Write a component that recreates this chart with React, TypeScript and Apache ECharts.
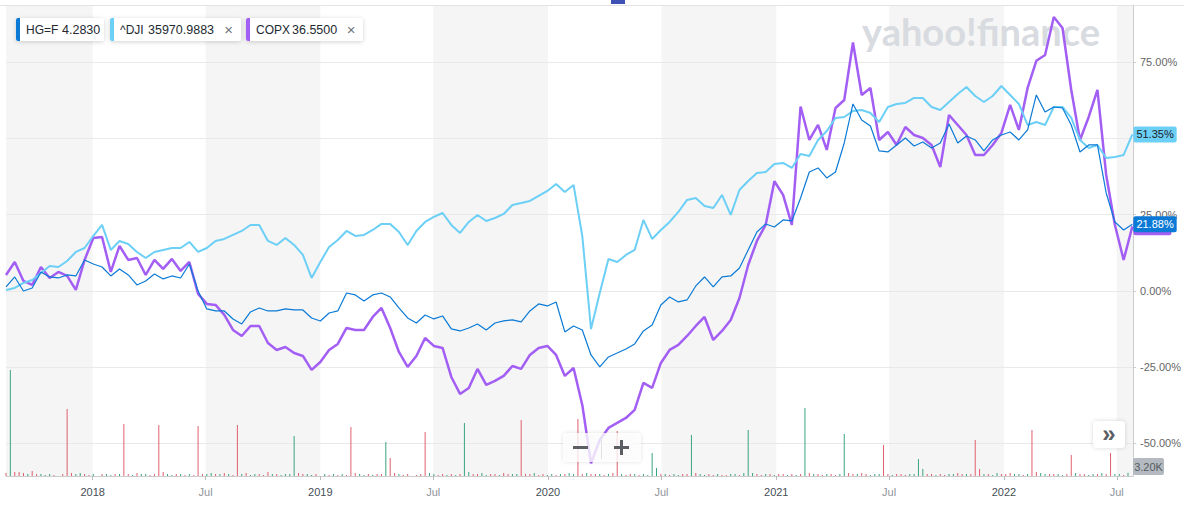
import React, { useEffect, useRef } from 'react';
import * as echarts from 'echarts';

// ---- data (percent change since start, bi-weekly samples) ----
const TICKERS = ['HG=F', '^DJI', 'COPX'];
const LAST_PRICES = ['4.2830', '35970.9883', '36.5500'];
const COLORS = ['#0b7ad6', '#6ccff6', '#a35ef4'];

const HG = [
  1.31, 4.59, 0.0, 0.98, 6.23, 4.59, 4.26, 5.25, 4.92, 10.17,
  8.86, 7.87, 4.92, 7.22, 5.25, 1.97, 3.28, 5.58, 3.94, 4.92,
  4.26, 8.86, 0.0, -5.9, -6.56, -6.56, -9.18, -10.82, -6.89, -5.58,
  -6.56, -6.56, -5.9, -6.23, -6.23, -8.86, -9.84, -7.22, -6.56, -0.66,
  -1.31, -3.28, -1.31, -0.66, -1.97, -5.58, -8.86, -10.5, -7.87, -9.18,
  -8.2, -12.46, -13.12, -12.14, -10.82, -12.79, -10.5, -9.84, -9.51, -10.17,
  -6.56, -4.26, -4.92, -3.61, -13.45, -11.48, -12.79, -20.99, -24.93, -21.65,
  -20.34, -19.02, -17.38, -13.12, -11.15, -4.59, -1.97, -3.61, -2.95, 1.64,
  4.59, 1.31, 4.59, 4.92, 7.54, 13.45, 19.35, 21.98, 20.99, 23.29,
  22.96, 30.5, 39.03, 40.34, 37.06, 39.03, 48.54, 61.34, 56.09, 54.12,
  45.92, 45.59, 47.89, 50.18, 47.56, 48.87, 46.9, 48.54, 54.78, 48.54,
  50.84, 49.53, 45.92, 49.53, 51.17, 52.15, 49.53, 52.81, 64.29, 58.71,
  60.35, 60.02, 54.45, 45.59, 47.89, 47.89, 32.14, 22.63, 20.01, 21.88,
];
const DJI = [
  0.33, 0.98, 2.62, 3.61, 5.9, 8.2, 7.87, 9.84, 12.79, 14.1,
  18.04, 21.65, 13.45, 16.4, 15.42, 12.79, 10.82, 12.79, 13.45, 14.1,
  14.1, 16.07, 12.79, 14.1, 16.4, 17.06, 18.37, 19.68, 21.65, 21.65,
  16.4, 15.09, 17.38, 15.09, 11.81, 4.26, 9.51, 14.43, 16.73, 19.68,
  18.04, 18.37, 20.01, 21.98, 21.98, 19.35, 15.09, 19.68, 22.63, 24.27,
  25.58, 21.65, 19.02, 22.63, 24.93, 22.96, 23.94, 25.26, 28.21, 28.86,
  29.52, 31.16, 32.8, 35.1, 32.47, 34.77, 18.04, -12.5, -0.66, 10.5,
  9.51, 11.81, 13.45, 23.29, 17.06, 20.01, 22.63, 25.91, 29.85, 30.5,
  27.88, 27.22, 31.49, 24.93, 33.13, 36.08, 38.7, 39.03, 41.66, 41.98,
  40.34, 44.94, 44.28, 49.53, 52.48, 56.74, 57.07, 59.04, 59.37, 58.38,
  55.43, 60.35, 61.34, 61.66, 63.3, 63.3, 60.35, 59.37, 61.99, 64.62,
  66.91, 63.96, 61.99, 63.96, 67.24, 64.29, 61.34, 54.45, 55.43, 54.45,
  60.35, 60.35, 56.74, 49.53, 46.9, 47.89, 43.62, 43.95, 44.61, 51.35,
];
const COPX = [
  5.25, 9.51, 3.28, 1.97, 7.87, 4.26, 6.23, 4.92, 0.33, 10.17,
  17.38, 17.71, 6.23, 14.76, 10.17, 10.82, 5.25, 10.17, 7.22, 10.5,
  6.56, 9.51, -0.98, -4.26, -4.59, -7.87, -12.79, -14.76, -11.48, -11.48,
  -17.06, -19.35, -18.37, -20.34, -21.32, -25.91, -23.29, -19.35, -17.38, -12.14,
  -12.79, -12.79, -8.53, -5.58, -12.14, -20.01, -24.93, -21.32, -15.42, -18.04,
  -18.7, -28.21, -33.78, -31.82, -25.58, -30.83, -29.52, -27.88, -24.6, -25.58,
  -20.99, -18.7, -18.04, -20.99, -27.88, -25.26, -37.39, -56.5, -48.87, -44.94,
  -43.3, -41.66, -39.03, -30.18, -31.82, -23.62, -19.35, -17.71, -14.76, -11.48,
  -8.53, -16.07, -13.12, -9.51, -2.3, 8.53, 16.4, 21.65, 36.0, 31.49,
  21.65, 60.5, 49.53, 54.45, 46.25, 60.02, 62.65, 81.5, 64.29, 66.58,
  49.53, 52.15, 47.89, 53.79, 51.17, 50.18, 47.89, 40.67, 57.73, 54.45,
  51.17, 44.61, 44.61, 47.89, 51.82, 61.01, 52.81, 66.58, 75.5, 77.41,
  89.87, 86.26, 65.93, 49.53, 57.07, 65.93, 38.05, 21.65, 10.17, 21.2,
];

// weekly volume (thousands) and direction (u = up / green, d = down / red)
const VOLUME = [
  3, 106, 4, 4, 3, 2, 5, 2, 2, 1,
  2, 1, 0, 2, 67, 3, 2, 3, 2, 1,
  2, 0, 2, 2, 1, 2, 2, 52, 2, 1,
  3, 2, 2, 1, 2, 51, 4, 2, 1, 2,
  2, 1, 2, 1, 50, 2, 2, 3, 2, 2,
  3, 2, 1, 51, 2, 3, 1, 2, 2, 1,
  4, 2, 2, 1, 2, 2, 40, 3, 2, 2,
  1, 2, 0, 2, 1, 2, 1, 2, 1, 49,
  3, 2, 1, 2, 1, 2, 2, 34, 18, 3,
  2, 1, 2, 0, 1, 2, 44, 3, 2, 1,
  2, 1, 2, 1, 2, 53, 4, 2, 2, 3,
  1, 2, 2, 1, 3, 2, 2, 2, 56, 2,
  2, 3, 1, 2, 1, 2, 1, 2, 2, 3,
  2, 57, 2, 3, 2, 2, 2, 1, 2, 3,
  45, 2, 1, 2, 2, 1, 2, 1, 23, 8,
  2, 2, 1, 2, 1, 2, 2, 41, 3, 2,
  1, 2, 1, 2, 1, 1, 2, 2, 1, 3,
  46, 3, 2, 1, 2, 2, 1, 2, 2, 1,
  2, 1, 2, 68, 3, 2, 2, 1, 2, 2,
  1, 2, 42, 3, 2, 2, 3, 2, 1, 2,
  2, 31, 2, 1, 2, 2, 1, 2, 2, 17,
  7, 2, 2, 1, 2, 1, 2, 2, 3, 2,
  2, 2, 36, 7, 2, 2, 1, 3, 2, 2,
  3, 2, 2, 1, 2, 46, 4, 3, 2, 2,
  2, 2, 1, 2, 21, 3, 2, 2, 1, 2,
  2, 3, 2, 23, 2, 2, 1, 3.2,
];
const VOLUME_DIR =
  'dudddudduu' + 'ududdduudd' + 'udduududdu' + 'duudddduud' + 'ududdduudu' +
  'dudduduudd' + 'duduuuuddu' + 'uddudududd' + 'duududdudd' + 'udduddduud' +
  'dududuuddu' + 'uddudduudd' + 'dudduududu' + 'udduddudud' + 'dudduduuuu' +
  'duduuddudu' + 'uddudduudu' + 'uuddududdu' + 'dudududdud' + 'duuddudduu' +
  'udduddduuu' + 'uddudduudd' + 'uddduduudd' + 'duududduud' + 'duuddudduu' +
  'dudduudu';

const START = '2017-08-15';
const END = '2022-07-27';
const X_LABEL_DATES = [
  '2018-01-01', '2018-07-01', '2019-01-01', '2019-07-01', '2020-01-01',
  '2020-07-01', '2021-01-01', '2021-07-01', '2022-01-01', '2022-07-01',
];
const SHADED_PERIODS = [
  ['2017-08-15', '2018-01-01'],
  ['2018-07-01', '2019-01-01'],
  ['2019-07-01', '2020-01-01'],
  ['2020-07-01', '2021-01-01'],
  ['2021-07-01', '2022-01-01'],
  ['2022-07-01', '2022-07-27'],
];
const GRID_VALUES = [-50, -25, 0, 25, 50, 75];
const Y_LABEL_VALUES = [-50, -25, 0, 25, 75]; // 50.00% sits under the ^DJI tag
const MONTHS = ['Jan', 'Feb', 'Mar', 'Apr', 'May', 'Jun', 'Jul', 'Aug', 'Sep', 'Oct', 'Nov', 'Dec'];

const DAY = 86400000;
const FONT = '"Liberation Sans", Arial, sans-serif';
const TOP = 100;

export default function App() {
  const ref = useRef<HTMLDivElement>(null);

  useEffect(() => {
    if (!ref.current) return;
    const chart = echarts.init(ref.current, undefined, { renderer: 'svg' });
    const t0 = Date.parse(START);
    const tEnd = Date.parse(END);
    const dates = HG.map((_, i) => t0 + i * 14 * DAY);
    const mk = (arr: number[]) => arr.map((v, i) => [dates[i], v]);
    const volData = VOLUME.map((v, i) => ({
      value: [t0 + i * 7 * DAY, v],
      itemStyle: { color: VOLUME_DIR[i] === 'u' ? '#3aa57d' : '#e0606c' },
    }));
    const xTicks = X_LABEL_DATES.map((d) => Date.parse(d));

    const lineSeries = (name: string, arr: number[], color: string, width: number, z: number, label: any) => ({
      type: 'line',
      name,
      data: mk(arr),
      showSymbol: false,
      symbol: 'none',
      z,
      lineStyle: { color, width },
      itemStyle: { color },
      endLabel: {
        show: true,
        distance: 1,
        padding: [3, 3, 2, 3],
        borderRadius: 2,
        fontSize: 11,
        fontFamily: FONT,
        ...label,
      },
      emphasis: { disabled: true },
    });

    const legendBox = (x: number, w: number, color: string, ticker: string, price: string, valX: number, closeX: number | null) => {
      const els: any[] = [
        { type: 'rect', z: TOP, shape: { x, y: 18, width: w, height: 23, r: 2 }, style: { fill: '#fff', shadowBlur: 4, shadowColor: 'rgba(0,0,0,0.18)', shadowOffsetY: 1 } },
        { type: 'rect', z: TOP + 1, shape: { x, y: 18, width: 4, height: 23, r: [2, 0, 0, 2] }, style: { fill: color } },
        { type: 'text', z: TOP + 1, x: x + 10, y: 29.5, style: { text: ticker, fill: '#232a31', font: '12px ' + FONT, verticalAlign: 'middle' } },
        { type: 'text', z: TOP + 1, x: valX, y: 29.5, style: { text: price, fill: '#232a31', font: '12.5px ' + FONT, verticalAlign: 'middle' } },
      ];
      if (closeX !== null) {
        els.push({ type: 'text', z: TOP + 1, x: closeX, y: 29.5, style: { text: '×', fill: '#6e7780', font: '15px ' + FONT, align: 'center', verticalAlign: 'middle' } });
      }
      return els;
    };

    chart.setOption({
      animation: false,
      backgroundColor: '#fff',
      grid: { left: 6, right: 51, top: 5, bottom: 29, containLabel: false },
      xAxis: {
        type: 'value',
        min: t0,
        max: tEnd,
        axisLine: { show: true, onZero: false, lineStyle: { color: '#ccc' } },
        axisTick: { show: true, customValues: xTicks, length: 4, lineStyle: { color: '#bbb' } },
        splitLine: { show: false },
        axisLabel: {
          customValues: xTicks,
          margin: 10,
          fontSize: 11,
          fontFamily: FONT,
          formatter: (v: number) => {
            const d = new Date(v);
            const m = d.getUTCMonth();
            return m === 0 ? '{y|' + d.getUTCFullYear() + '}' : '{m|' + MONTHS[m] + '}';
          },
          rich: {
            y: { color: '#464e56', fontSize: 11, fontFamily: FONT },
            m: { color: '#8f959c', fontSize: 11, fontFamily: FONT },
          },
        },
      },
      yAxis: [
        {
          type: 'value',
          position: 'right',
          min: -60.7,
          max: 93.8,
          axisLine: { show: true, lineStyle: { color: '#ccc' } },
          axisTick: { show: true, customValues: GRID_VALUES, length: 3, lineStyle: { color: '#ccc' } },
          splitLine: { show: false },
          axisLabel: {
            customValues: Y_LABEL_VALUES,
            margin: 7,
            color: '#666',
            fontSize: 11,
            fontFamily: FONT,
            formatter: (v: number) => v.toFixed(2) + '%',
          },
        },
        { type: 'value', min: 0, max: 471, show: false },
      ],
      graphic: [
        { type: 'line', z: 50, shape: { x1: 0, y1: 5.5, x2: 1184, y2: 5.5 }, style: { stroke: '#e3e3e3', lineWidth: 1 } },
        { type: 'rect', z: 60, shape: { x: 611, y: 0, width: 14, height: 4 }, style: { fill: '#3f51b5' } },
        {
          type: 'text', z: 1, x: 981, y: 31,
          style: { text: 'yahoo!finance', fill: '#d8dbdf', font: 'bold 38px Lato, "Liberation Sans", sans-serif', align: 'center', verticalAlign: 'middle' },
        },
        ...legendBox(16, 88, COLORS[0], TICKERS[0], LAST_PRICES[0], 62, null),
        ...legendBox(110, 131, COLORS[1], TICKERS[1], LAST_PRICES[1], 148, 228.5),
        ...legendBox(246, 117, COLORS[2], TICKERS[2], LAST_PRICES[2], 292, 351),
        { type: 'rect', z: TOP, shape: { x: 563, y: 433, width: 78, height: 29, r: 4 }, style: { fill: 'rgba(255,255,255,0.78)', shadowBlur: 4, shadowColor: 'rgba(0,0,0,0.15)' } },
        { type: 'line', z: TOP + 1, shape: { x1: 601.5, y1: 436, x2: 601.5, y2: 459 }, style: { stroke: '#e2e2e2', lineWidth: 1 } },
        { type: 'rect', z: TOP + 1, shape: { x: 573, y: 446, width: 15, height: 3 }, style: { fill: '#5b5f63' } },
        { type: 'rect', z: TOP + 1, shape: { x: 614, y: 446, width: 15, height: 3 }, style: { fill: '#5b5f63' } },
        { type: 'rect', z: TOP + 1, shape: { x: 620, y: 440, width: 3, height: 15 }, style: { fill: '#5b5f63' } },
        { type: 'rect', z: TOP, shape: { x: 1093, y: 421, width: 32, height: 27, r: 4 }, style: { fill: '#fff', shadowBlur: 4, shadowColor: 'rgba(0,0,0,0.15)' } },
        { type: 'text', z: TOP + 1, x: 1109, y: 433, style: { text: '»', fill: '#5b5f63', font: 'bold 24px ' + FONT, align: 'center', verticalAlign: 'middle' } },
        { type: 'rect', z: TOP, shape: { x: 1133, y: 458, width: 31, height: 17, r: 2 }, style: { fill: '#b5bac1' } },
        { type: 'text', z: TOP + 1, x: 1148.5, y: 466.5, style: { text: (VOLUME[VOLUME.length - 1]).toFixed(2) + 'K', fill: '#555b62', font: '11px ' + FONT, align: 'center', verticalAlign: 'middle' } },
      ],
      series: [
        {
          type: 'line',
          name: 'bands',
          data: [[t0, 0]],
          showSymbol: false,
          symbol: 'none',
          lineStyle: { opacity: 0 },
          z: 0,
          silent: true,
          markArea: {
            silent: true,
            z: 0,
            itemStyle: { color: '#f5f5f5' },
            data: SHADED_PERIODS.map(([a, b]) => [{ xAxis: Date.parse(a) }, { xAxis: Date.parse(b) }]),
          },
          markLine: {
            silent: true,
            symbol: 'none',
            z: 0,
            label: { show: false },
            lineStyle: { color: '#e9e9e9', type: 'solid', width: 1 },
            data: GRID_VALUES.map((v) => ({ yAxis: v })),
          },
        },
        {
          type: 'bar',
          name: 'Volume',
          yAxisIndex: 1,
          data: volData,
          barWidth: 1,
          z: 2,
          silent: true,
        },
        lineSeries(TICKERS[2], COPX, COLORS[2], 2.5, 3, {
          formatter: () => '\u00a0',
          width: 32,
          backgroundColor: COLORS[2],
          color: COLORS[2],
          offset: [0, 1],
        }),
        lineSeries(TICKERS[1], DJI, COLORS[1], 2, 4, {
          formatter: (p: any) => p.value[1].toFixed(2) + '%',
          backgroundColor: COLORS[1],
          color: '#1d2228',
        }),
        lineSeries(TICKERS[0], HG, COLORS[0], 1.2, 5, {
          formatter: (p: any) => p.value[1].toFixed(2) + '%',
          backgroundColor: COLORS[0],
          color: '#fff',
        }),
      ],
    });
    return () => chart.dispose();
  }, []);

  return <div ref={ref} style={{ position: 'absolute', left: 0, top: 0, width: 1184, height: 505 }} />;
}
